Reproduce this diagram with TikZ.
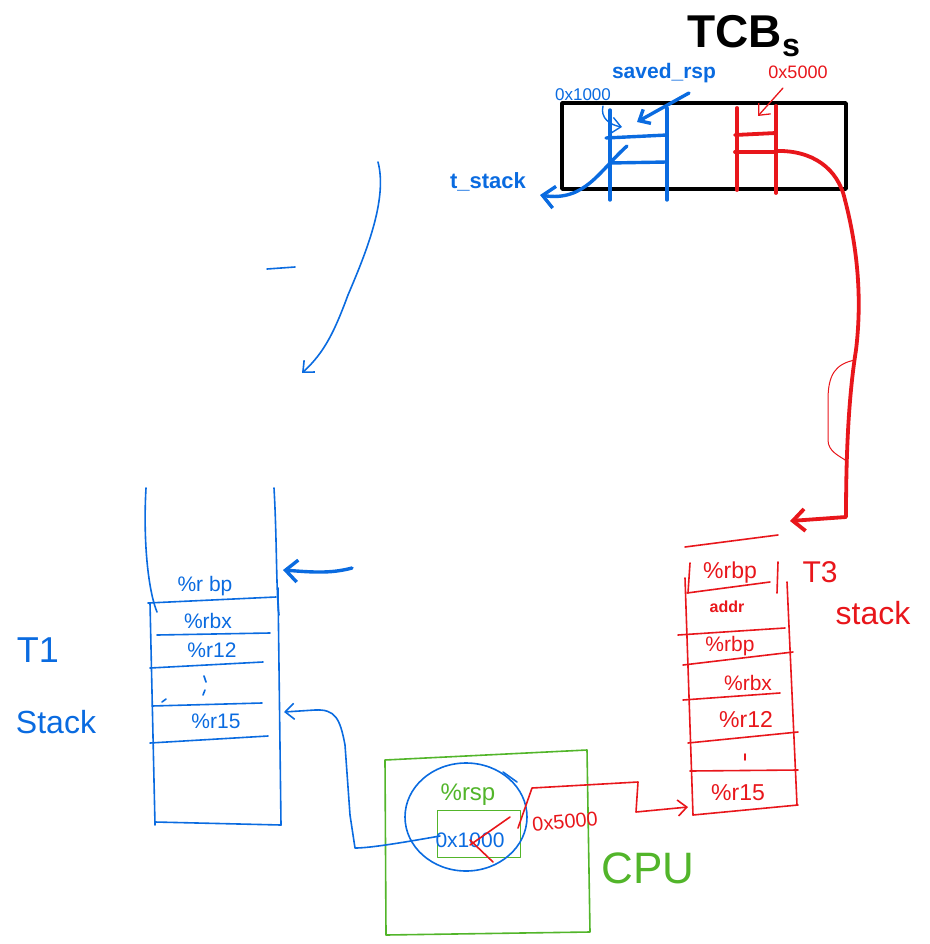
\documentclass[tikz,border=0pt]{standalone}
\usepackage{fontspec}
\setmainfont{Liberation Sans}
\usetikzlibrary{arrows.meta}
\definecolor{pblue}{HTML}{0A6BE0}
\definecolor{pred}{HTML}{E8161B}
\definecolor{pgreen}{HTML}{52B52A}
\begin{document}
\begin{tikzpicture}[x=1pt,y=-1pt,line cap=round,line join=round,
  bl/.style={draw=pblue,line width=1.6pt},
  blt/.style={draw=pblue,line width=3.4pt},
  rd/.style={draw=pred,line width=1.6pt},
  rdt/.style={draw=pred,line width=3.8pt},
  gr/.style={draw=pgreen,line width=1.6pt},
  bk/.style={draw=black,line width=3.6pt},
  arr/.style={-{Straight Barb[length=12pt,width=22pt]}},
  arrs/.style={-{Straight Barb[length=9pt,width=16pt]}},
  txt/.style={inner sep=0pt,font=\fontsize{#1}{#1}\selectfont},
  btxt/.style={inner sep=0pt,font=\fontsize{#1}{#1}\selectfont\bfseries},
]
\useasboundingbox (0,0) rectangle (929,944);

% ---------- TCBs ----------
\node[btxt=46] (title) at (744,36) {TCB\textsubscript{s}};
\node[bk,minimum width=284pt,minimum height=86pt,inner sep=0pt] (tcb) at (704,146) {};
% blue entry
\draw[blt] (610,110) -- (610,200);
\draw[blt] (667,108) -- (667,200);
\draw[blt] (606,138) -- (667,135);
\draw[blt] (610,163) -- (667,162);
\coordinate (bsrc) at (627,146);
% red entry
\draw[rdt] (737,108) -- (737,190);
\draw[rdt] (776,106) -- (776,193);
\draw[rdt] (735,135) -- (776,133);
\draw[rdt] (735,152) -- (776,152);
\coordinate (rsrc) at (776,151);

\node[btxt=21,text=pblue] (saved) at (664,73) {saved\_rsp};
\node[txt=17,text=pblue] (addr1) at (583,95) {0x1000};
\coordinate (savedpt) at (637,122);
\draw[blt,arrs] (689,93) -- (savedpt);
\coordinate (addr1pt) at (622,127);
\draw[draw=pblue,line width=1.4pt,arrs] (603,106) .. controls (600,118) and (610,125) .. (addr1pt);

\node[txt=18,text=pred] (addr5) at (798,72) {0x5000};
\coordinate (addr5pt) at (758,116);
\draw[draw=pred,line width=1.3pt,arrs] (783,88) -- (addr5pt);

\node[btxt=22,text=pblue] (tstack) at (488,182) {t\_stack};
\coordinate (tstackpt) at (540,195);
\draw[blt,arr] (bsrc) .. controls (600,170) and (585,202) .. (tstackpt);

% ---------- red pointer to T3 ----------
\coordinate (t3top) at (790,521);
\draw[rdt,arr] (rsrc) .. controls (812,150) and (838,168) .. (845,200)
  .. controls (858,250) and (862,300) .. (856,350)
  .. controls (848,400) and (846,460) .. (846,517) -- (t3top);
\draw[draw=pred,line width=1pt] (855,360) .. controls (835,364) and (828,375) .. (828,400)
  -- (828,440) .. controls (828,452) and (840,456) .. (848,462);

% ---------- stray blue stroke ----------
\coordinate (strayA) at (378,162);
\coordinate (strayB) at (302,373);
\draw[bl,arrs] (strayA) .. controls (388,200) and (365,255) .. (348,295)
  .. controls (335,330) and (325,352) .. (strayB);
\draw[bl] (267,269) -- (295,267);

% ---------- T1 stack ----------
\draw[bl] (146,488) .. controls (143,540) and (148,590) .. (157,612);
\draw[bl] (150,603) -- (155,825);
\draw[bl] (274,488) .. controls (277,540) and (276,590) .. (279,615);
\draw[bl] (278,588) -- (281,825);
\draw[bl] (155,822) -- (281,825);
\draw[bl] (148,603) -- (276,597);
\draw[bl] (157,635) -- (270,633);
\draw[bl] (150,668) -- (263,662);
\draw[bl] (152,706) -- (262,703);
\draw[bl] (150,743) -- (268,736);
\draw[bl] (162,702) -- (166,699);
\node[txt=21,text=pblue] (t1a) at (205,586) {\%r bp};
\node[txt=21,text=pblue] (t1b) at (208,621) {\%rbx};
\node[txt=21,text=pblue] (t1c) at (212,650) {\%r12};
\draw[bl] (204,676) -- (206,682);
\draw[bl] (205,690) -- (203,695);
\node[txt=21,text=pblue] (t1d) at (216,721) {\%r15};
\node[txt=36,text=pblue] (t1lbl) at (38,650) {T1};
\node[txt=32,text=pblue] (t1lbl2) at (56,722) {Stack};
\coordinate (t1rbp) at (283,570);
\coordinate (t1r15) at (284,712);
\draw[blt,arr] (352,568) .. controls (330,574) and (310,572) .. (t1rbp);

% ---------- CPU ----------
\draw[gr] (385,760) -- (587,750) -- (590,932) -- (386,935) -- cycle;
\node[draw=pgreen,line width=1.6pt,minimum width=83pt,minimum height=47pt,inner sep=0pt] (reg) at (479,834) {};
\node[txt=24,text=pgreen] (rsp) at (468,795) {\%rsp};
\node[txt=44,text=pgreen] (cpulbl) at (648,868) {CPU};
\draw[bl] (466,817) ellipse [x radius=61, y radius=54];
\draw[bl] (503,772) -- (517,782);
\node[txt=21,text=pblue] (old) at (470,840) {0x1000};
\draw[rd] (510,817) -- (470,845);
\draw[rd] (470,840) -- (493,862);
\node[txt=20,text=pred,rotate=5] (new) at (565,822) {0x5000};

% CPU -> T1 stack
\coordinate (regw) at (440,836);
\draw[bl,arrs] (regw) .. controls (400,843) and (370,848) .. (355,848)
  -- (350,815) -- (345,745) .. controls (340,718) and (335,709) .. (315,710) -- (t1r15);
% CPU -> T3 stack
\coordinate (rege) at (518,828);
\coordinate (t3r15) at (688,807);
\draw[rd,arrs] (rege) -- (532,788) -- (638,782) -- (636,812) -- (t3r15);

% ---------- T3 stack ----------
\draw[rd] (685,547) -- (778,535);
\draw[rd] (685,578) -- (693,815);
\draw[rd] (787,582) -- (797,805);
\draw[rd] (693,815) -- (798,805);
\draw[rd] (687,593) -- (770,582);
\draw[rd] (678,635) -- (785,628);
\draw[rd] (683,665) -- (793,652);
\draw[rd] (683,700) -- (780,693);
\draw[rd] (688,743) -- (798,732);
\draw[rd] (690,771) -- (798,770);
\draw[rd] (690,563) -- (688,593);
\draw[rd] (778,562) -- (777,593);
\node[txt=23,text=pred] (t3a) at (730,573) {\%rbp};
\node[btxt=16,text=pred] (t3b) at (727,607) {addr};
\node[txt=21,text=pred] (t3c) at (730,646) {\%rbp};
\node[txt=21,text=pred] (t3d) at (748,683) {\%rbx};
\node[txt=23,text=pred] (t3e) at (746,720) {\%r12};
\draw[rd] (745,754) -- (745,760);
\node[txt=23,text=pred] (t3f) at (738,793) {\%r15};
\node[txt=30,text=pred] (t3lbl) at (820,572) {T3};
\node[txt=32,text=pred] (t3lbl2) at (873,613) {stack};
\end{tikzpicture}
\end{document}
